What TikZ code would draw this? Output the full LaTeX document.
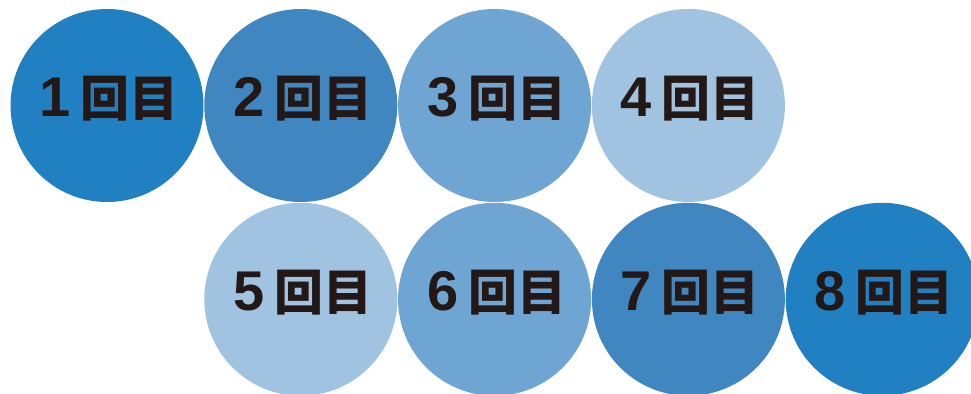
\documentclass[tikz,border=0pt]{standalone}
\usepackage{fontspec}
\newfontfamily\jpfont{Noto Sans CJK JP}
\newfontfamily\digitfont{Liberation Sans}
\usetikzlibrary{positioning}
\definecolor{kaiA}{RGB}{33,128,194}
\definecolor{kaiB}{RGB}{64,135,194}
\definecolor{kaiC}{RGB}{111,165,211}
\definecolor{kaiD}{RGB}{160,195,226}
\definecolor{kaitext}{RGB}{35,24,21}
\newcommand{\kaisuu}[1]{\hspace{2pt}{\digitfont\fontsize{28}{28}\selectfont #1}\hspace{5pt}回目}

\begin{document}
\begin{tikzpicture}[
		node distance=0pt,
		kaiblock/.style={circle, inner sep=0pt, minimum size=96.5pt, text height=20pt, text depth=9pt, text=kaitext, font=\jpfont\bfseries\fontsize{24.5}{24.5}\selectfont}
	]
	\clip (0,0) rectangle (485.5pt,-197pt);

	% first row
	\node[kaiblock, fill=kaiA] (kai1) at (53.5pt,-52.75pt) {\kaisuu{1}};
	\node[kaiblock, fill=kaiB, right=of kai1] (kai2) {\kaisuu{2}};
	\node[kaiblock, fill=kaiC, right=of kai2] (kai3) {\kaisuu{3}};
	\node[kaiblock, fill=kaiD, right=of kai3] (kai4) {\kaisuu{4}};

	% second row
	\node[kaiblock, fill=kaiD, below=of kai2] (kai5) {\kaisuu{5}};
	\node[kaiblock, fill=kaiC, right=of kai5] (kai6) {\kaisuu{6}};
	\node[kaiblock, fill=kaiB, right=of kai6] (kai7) {\kaisuu{7}};
	\node[kaiblock, fill=kaiA, right=of kai7] (kai8) {\kaisuu{8}};

\end{tikzpicture}
\end{document}
